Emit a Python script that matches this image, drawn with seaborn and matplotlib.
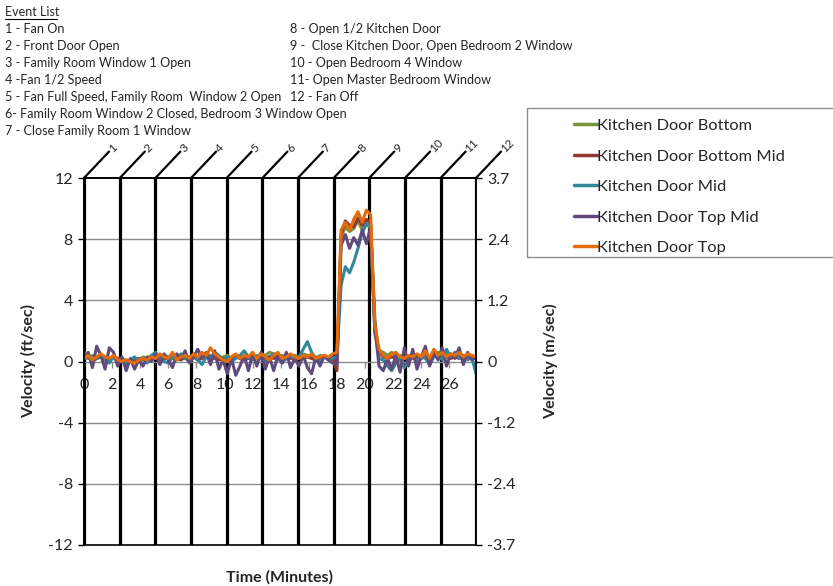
import numpy as np
import pandas as pd
import seaborn as sns
import matplotlib.pyplot as plt
from matplotlib.patches import Rectangle

# ------------------------------- DATA -------------------------------
time_min = [0.0, 0.3, 0.6, 0.9, 1.2, 1.5, 1.8, 2.1, 2.4, 2.7,
            3.0, 3.3, 3.6, 3.9, 4.2, 4.5, 4.8, 5.1, 5.4, 5.7,
            6.0, 6.3, 6.6, 6.9, 7.2, 7.5, 7.8, 8.1, 8.4, 8.7,
            9.0, 9.3, 9.6, 9.9, 10.2, 10.5, 10.8, 11.1, 11.4, 11.7,
            12.0, 12.3, 12.6, 12.9, 13.2, 13.5, 13.8, 14.1, 14.4, 14.7,
            15.0, 15.3, 15.6, 15.9, 16.2, 16.5, 16.8, 17.1, 17.4, 17.7,
            18.0, 18.3, 18.6, 18.9, 19.2, 19.5, 19.8, 20.1, 20.4, 20.7, 21.0,
            21.3, 21.6, 21.9, 22.2, 22.5, 22.8, 23.1, 23.4, 23.7, 24.0,
            24.3, 24.6, 24.9, 25.2, 25.5, 25.8, 26.1, 26.4, 26.7, 27.0, 27.3, 27.6, 27.9]

door_bottom = [0.3, 0.2, 0.4, 0.2, 0.3, 0.2, 0.1, 0.3, 0.2, 0.1,
               0.0, 0.1, 0.2, 0.1, 0.3, 0.2, 0.4, 0.3, 0.2, 0.4,
               0.3, 0.2, 0.4, 0.3, 0.2, 0.3, 0.4, 0.2, 0.3, 0.5,
               0.4, 0.3, 0.2, 0.3, 0.4, 0.2, 0.3, 0.4, 0.3, 0.2,
               0.4, 0.3, 0.5, 0.4, 0.6, 0.5, 0.3, 0.4, 0.2, 0.3,
               0.4, 0.3, 0.5, 0.4, 0.3, 0.2, 0.4, 0.3, 0.2, 0.3,
               0.2, 8.1, 8.8, 8.5, 8.7, 9.2, 8.6, 9.0, 8.7, 1.8, 0.7,
               0.6, 0.4, 0.6, 0.3, 0.4, 0.2, 0.3, 0.5, 0.4, 0.3,
               0.5, 0.3, 0.4, 0.6, 0.3, 0.5, 0.4, 0.3, 0.5, 0.4, 0.3, 0.4, 0.2]

door_bottom_mid = [0.2, 0.3, 0.1, 0.2, 0.3, 0.1, 0.2, 0.3, 0.2, 0.1,
                   0.1, 0.0, 0.1, 0.2, 0.1, 0.2, 0.3, 0.2, 0.3, 0.2,
                   0.2, 0.3, 0.2, 0.1, 0.3, 0.2, 0.3, 0.1, 0.2, 0.3,
                   0.3, 0.2, 0.1, 0.2, 0.1, 0.2, 0.3, 0.2, 0.1, 0.2,
                   0.3, 0.2, 0.3, 0.2, 0.3, 0.2, 0.3, 0.2, 0.3, 0.2,
                   0.2, 0.3, 0.2, 0.3, 0.2, 0.1, 0.2, 0.3, 0.2, 0.3,
                   -0.6, 8.3, 9.2, 8.9, 8.8, 9.4, 8.9, 9.3, 9.0, 2.0, 0.6,
                   0.3, 0.2, 0.3, 0.2, 0.1, 0.2, 0.3, 0.2, 0.3, 0.2,
                   0.3, 0.2, 0.4, 0.3, 0.2, 0.3, 0.2, 0.3, 0.2, 0.3, 0.2, 0.3, 0.2]

door_mid = [0.6, 0.3, 0.0, 0.2, 0.4, 0.1, -0.1, 0.3, 0.0, 0.2,
            -0.2, 0.1, 0.3, 0.0, 0.2, -0.1, 0.4, 0.6, 0.2, 0.0,
            -0.1, 0.3, 0.1, 0.5, 0.2, 0.0, 0.4, 0.1, -0.2, 0.3,
            0.2, 0.6, 0.4, 0.1, 0.3, 0.0, 0.2, 0.4, 0.7, 0.3,
            0.1, 0.4, 0.2, 0.0, 0.3, 0.5, 0.2, -0.1, 0.2, 0.4,
            0.1, 0.3, 0.8, 1.3, 0.6, 0.2, 0.0, 0.3, 0.1, 0.2,
            0.3, 5.0, 6.2, 5.8, 6.5, 7.4, 8.4, 9.0, 8.9, 2.8, 0.2,
            0.1, -0.3, -0.6, -0.1, 0.2, -0.4, 0.1, 0.3, 0.0, 0.4,
            0.2, -0.2, 0.3, 0.5, 0.1, 0.8, 0.3, 0.6, 0.2, 0.4, 0.1, 0.3, -0.8]

door_top_mid = [0.2, 0.6, -0.4, 1.0, 0.4, -0.5, 0.9, 0.6, -0.3, 0.3,
                -0.6, 0.2, -0.5, 0.1, -0.3, 0.3, 0.0, 0.5, -0.2, 0.5,
                0.1, -0.4, 0.5, 0.2, 0.7, -0.1, 0.3, 0.8, 0.2, 0.6,
                -0.2, 0.7, -0.5, 0.1, -0.8, 0.2, -0.9, -0.3, 0.4, -0.6,
                0.5, -0.3, 0.6, -0.5, 0.3, -0.6, 0.4, -0.1, 0.6, -0.4,
                0.2, -0.3, 0.4, -0.4, -0.8, 0.3, -0.3, 0.4, 0.1, -0.1,
                -0.2, 7.6, 8.3, 7.4, 8.1, 7.6, 8.6, 7.7, 8.8, 2.2, -0.3,
                -0.6, 0.2, -0.5, 0.4, -0.7, 0.9, -0.3, 0.8, -0.5, 0.3,
                1.0, -0.3, 0.6, 0.1, 0.9, -0.3, 0.5, 0.2, 0.9, -0.2, 0.6, 0.1, 0.3]

door_top = [0.2, 0.4, 0.1, 0.3, 0.5, 0.3, 0.2, 0.4, 0.1, 0.0,
            0.1, 0.0, -0.1, 0.1, 0.2, 0.1, 0.3, 0.2, 0.5, 0.3,
            0.2, 0.6, 0.1, 0.3, 0.4, 0.2, 0.5, 0.3, 0.6, 0.4,
            0.9, 0.5, 0.3, 0.1, 0.0, 0.3, 0.5, 0.2, 0.4, 0.3,
            0.6, 0.2, 0.5, 0.3, 0.1, 0.4, 0.6, 0.2, 0.3, 0.5,
            0.3, 0.2, 0.4, 0.3, 0.5, 0.2, 0.3, 0.4, 0.3, 0.5,
            0.6, 8.6, 9.1, 8.6, 9.3, 9.8, 9.1, 9.9, 9.6, 2.4, 0.8,
            0.4, 0.2, 0.5, 0.6, 0.3, 0.2, 0.4, 0.3, 0.5, 0.3,
            0.7, 0.2, 0.8, 0.4, 0.6, 0.3, 0.5, 0.4, 0.6, 0.3, 0.5, 0.4, 0.3]

series_names = ["Kitchen Door Bottom", "Kitchen Door Bottom Mid", "Kitchen Door Mid",
                "Kitchen Door Top Mid", "Kitchen Door Top"]
series_colors = ["#77933C", "#953735", "#31859C", "#604A7B", "#E46C0A"]

event_times = [0.0, 2.55, 5.08, 7.62, 10.15, 12.7, 15.22, 17.77, 20.3, 22.85, 25.38, 27.9]
event_labels = ["1", "2", "3", "4", "5", "6", "7", "8", "9", "10", "11", "12"]

event_list_left = ["1 - Fan On", "2 - Front Door Open", "3 - Family Room Window 1 Open",
                   "4 -Fan 1/2 Speed", "5 - Fan Full Speed, Family Room  Window 2 Open",
                   "6- Family Room Window 2 Closed, Bedroom 3 Window Open",
                   "7 - Close Family Room 1 Window"]
event_list_right = ["8 - Open 1/2 Kitchen Door", "9 -  Close Kitchen Door, Open Bedroom 2 Window",
                    "10 - Open Bedroom 4 Window", "11- Open Master Bedroom Window", "12 - Fan Off"]

y_ticks = [-12, -8, -4, 0, 4, 8, 12]
y2_labels = ["-3.7", "-2.4", "-1.2", "0", "1.2", "2.4", "3.7"]
x_ticks = [0, 2, 4, 6, 8, 10, 12, 14, 16, 18, 20, 22, 24, 26]

# ------------------------------- FIGURE -------------------------------
sns.set_style("white")
plt.rcParams['font.family'] = ['Lato', 'DejaVu Sans']
plt.rcParams['axes.unicode_minus'] = False

df = pd.DataFrame({"t": time_min})
for name, vals in zip(series_names, [door_bottom, door_bottom_mid, door_mid, door_top_mid, door_top]):
    df[name] = vals
long = df.melt(id_vars="t", var_name="serie", value_name="v")

fig = plt.figure(figsize=(8.33, 5.86), dpi=100)
W, H = 833, 586
ax = fig.add_axes([84 / W, 1 - 545 / H, (476 - 84) / W, (545 - 178) / H])

# grille horizontale et lignes d'evenements
for y in [-8, -4, 4, 8]:
    ax.axhline(y, color="#8c8c8c", lw=1, zorder=0)
for t in event_times:
    ax.axvline(t, color="black", lw=2.3, zorder=1)

sns.lineplot(data=long, x="t", y="v", hue="serie", palette=series_colors,
             hue_order=series_names, lw=2.2, ax=ax, legend=False, zorder=3)

ax.set_xlim(0, 27.9)
ax.set_ylim(-12, 12)
ax.set_yticks(y_ticks)
ax.set_xticks(x_ticks)
ax.tick_params(axis="y", direction="out", length=4, width=1, color="black", labelsize=11.5, pad=4, left=True)
ax.tick_params(axis="x", direction="out", length=4, width=1, color="#8c8c8c", labelsize=11.5, pad=8, bottom=True)

for s in ["top", "left", "right"]:
    ax.spines[s].set_color("black")
    ax.spines[s].set_linewidth(1.2)
ax.spines["bottom"].set_position(("data", 0))
ax.spines["bottom"].set_color("#8c8c8c")
ax.spines["bottom"].set_linewidth(1)

ax.set_xlabel("Time (Minutes)", fontsize=11.5, fontweight="bold")
ax.set_ylabel("Velocity (ft/sec)", fontsize=11.5, fontweight="bold")
ax.xaxis.set_label_coords(0.5, -0.068)
ax.yaxis.set_label_coords(-0.122, 0.5)

ax2 = ax.twinx()
ax2.set_ylim(-12, 12)
ax2.set_yticks(y_ticks)
ax2.set_yticklabels(y2_labels)
ax2.tick_params(axis="y", direction="out", length=4, width=1, color="black", labelsize=11.5, pad=4, right=True)
for s in ["top", "bottom", "left", "right"]:
    ax2.spines[s].set_color("black")
    ax2.spines[s].set_linewidth(1.2)
ax2.set_ylabel("Velocity (m/sec)", fontsize=11.5, fontweight="bold", rotation=90)
ax2.yaxis.set_label_coords(1.17, 0.5)

# traits obliques et numeros des evenements
for t, lab in zip(event_times, event_labels):
    ax.annotate("", xy=(t, 1), xycoords=("data", "axes fraction"),
                xytext=(18, 19), textcoords="offset points",
                arrowprops=dict(arrowstyle="-", lw=1.6, color="black",
                                shrinkA=0, shrinkB=0), annotation_clip=False)
    ax.annotate(lab, xy=(t, 1), xycoords=("data", "axes fraction"),
                xytext=(19, 20), textcoords="offset points", rotation=45,
                rotation_mode="anchor", ha="left", va="center", fontsize=8.5,
                annotation_clip=False)

# liste des evenements
fig.text(5 / W, 1 - 12 / H, "Event List", fontsize=9, va="center", ha="left")
fig.add_artist(plt.Line2D([5 / W, 57 / W], [1 - 19 / H, 1 - 19 / H], color="black", lw=0.8))
for i, txt in enumerate(event_list_left):
    fig.text(5 / W, 1 - (29 + 17 * i) / H, txt, fontsize=9.1, va="center", ha="left")
for i, txt in enumerate(event_list_right):
    fig.text(290 / W, 1 - (29 + 17 * i) / H, txt, fontsize=9.1, va="center", ha="left")

# legende
fig.add_artist(Rectangle((527 / W, 1 - 257 / H), 0.5, (257 - 108) / H,
                         transform=fig.transFigure, fill=False, edgecolor="#8c8c8c", lw=1))
handles = [plt.Line2D([], [], color=c, lw=2.5) for c in series_colors]
fig.legend(handles, series_names, loc="upper left", bbox_to_anchor=(567 / W, 1 - 112 / H),
           frameon=False, fontsize=11.8, handlelength=1.4, handletextpad=0.05,
           labelspacing=0.98, borderaxespad=0)

fig.savefig("out.png", dpi=100)
